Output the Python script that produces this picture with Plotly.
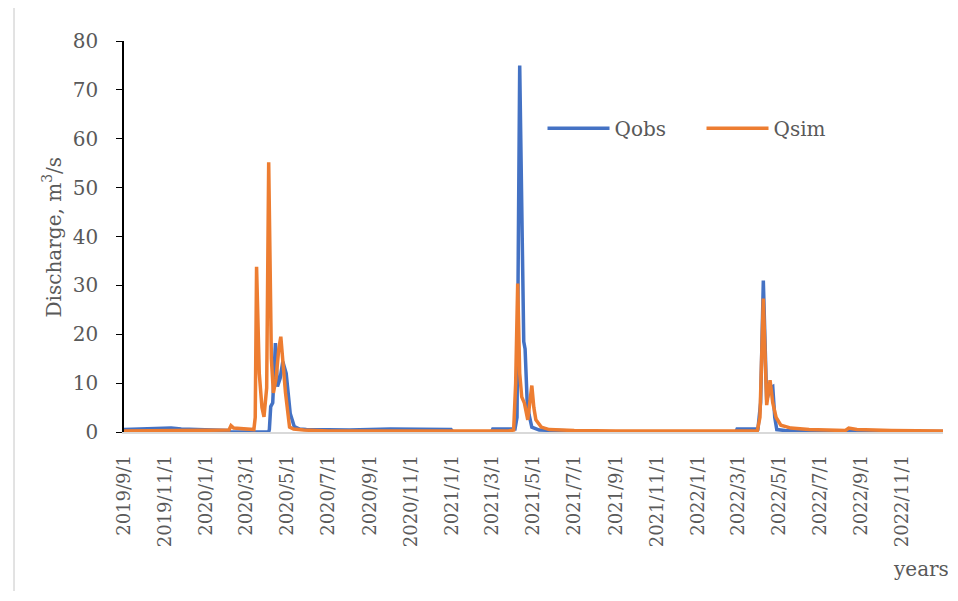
import plotly.graph_objects as go

qobs_dates = [
    "2019-09-01", "2019-10-20", "2019-11-10", "2019-11-25", "2020-01-15", "2020-02-03",
    "2020-02-06", "2020-04-03", "2020-04-04", "2020-04-06", "2020-04-09", "2020-04-13",
    "2020-04-16", "2020-04-20", "2020-04-24", "2020-04-29", "2020-05-05", "2020-05-11",
    "2020-05-19", "2020-05-29", "2020-08-01", "2020-10-01", "2020-12-30", "2021-01-02",
    "2021-02-28", "2021-03-02", "2021-04-04", "2021-04-07", "2021-04-11", "2021-04-17",
    "2021-04-19", "2021-04-22", "2021-04-25", "2021-04-29", "2021-05-10", "2021-08-01",
    "2022-02-26", "2022-02-28", "2022-03-31", "2022-04-04", "2022-04-08", "2022-04-11",
    "2022-04-13", "2022-04-18", "2022-04-22", "2022-04-25", "2022-04-28", "2022-05-10",
    "2022-08-01", "2022-12-31",
]
qobs_values = [
    0.5, 0.6, 0.8, 0.6, 0.5, 0.3,
    0.0, 0.0, 0.5, 5.2, 6.0, 18.2,
    9.3, 11.0, 14.4, 12.0, 3.8, 1.1,
    0.6, 0.5, 0.4, 0.6, 0.5, 0.0,
    0.0, 0.6, 0.6, 3.0, 75.0, 18.5,
    17.0, 6.5, 3.5, 1.0, 0.4, 0.1,
    0.0, 0.6, 0.6, 6.0, 31.0, 14.0,
    6.5, 9.0, 9.3, 3.0, 0.5, 0.3,
    0.1, 0.1,
]

# simulated discharge (m3/s)
qsim_dates = [
    "2019-09-01", "2019-11-01", "2020-01-01", "2020-02-04", "2020-02-07", "2020-02-11",
    "2020-03-12", "2020-03-14", "2020-03-16", "2020-03-20", "2020-03-24", "2020-03-27",
    "2020-03-31", "2020-04-03", "2020-04-07", "2020-04-10", "2020-04-14", "2020-04-18",
    "2020-04-21", "2020-04-24", "2020-04-28", "2020-05-04", "2020-05-10", "2020-05-25",
    "2020-07-01", "2021-03-25", "2021-04-02", "2021-04-05", "2021-04-08", "2021-04-11",
    "2021-04-14", "2021-04-18", "2021-04-23", "2021-04-26", "2021-04-29", "2021-05-02",
    "2021-05-05", "2021-05-13", "2021-05-25", "2021-07-01", "2021-09-01", "2022-03-30",
    "2022-04-03", "2022-04-08", "2022-04-11", "2022-04-13", "2022-04-18", "2022-04-22",
    "2022-04-27", "2022-05-04", "2022-05-19", "2022-06-15", "2022-08-08", "2022-08-13",
    "2022-08-25", "2022-10-15", "2022-12-31",
]
qsim_values = [
    0.2, 0.3, 0.4, 0.4, 1.3, 0.8,
    0.5, 3.0, 33.8, 12.0, 5.0, 3.1,
    9.0, 55.2, 15.0, 8.0, 11.0, 17.0,
    19.5, 14.0, 8.0, 1.0, 0.6, 0.4,
    0.2, 0.2, 0.4, 10.0, 30.4, 12.0,
    7.2, 5.9, 2.5, 6.0, 9.5, 5.0,
    2.5, 1.0, 0.5, 0.3, 0.2, 0.2,
    3.0, 27.3, 12.0, 5.5, 10.6, 6.0,
    3.0, 1.4, 0.8, 0.5, 0.3, 0.8,
    0.5, 0.3, 0.2,
]

txt = "#595959"
font = "DejaVu Serif"

fig = go.Figure()
fig.add_trace(go.Scatter(x=qobs_dates, y=qobs_values, mode="lines", name="Qobs",
                         line=dict(color="#4472C4", width=3.5)))
fig.add_trace(go.Scatter(x=qsim_dates, y=qsim_values, mode="lines", name="Qsim",
                         line=dict(color="#ED7D31", width=3.5)))

# page body has an 8px margin, so the figure is a bit smaller than the window
fig.update_layout(
    width=940, height=583,
    margin=dict(l=116, r=5, t=33, b=159),
    paper_bgcolor="white", plot_bgcolor="white",
    font=dict(family=font, color=txt, size=20),
    showlegend=True,
    legend=dict(orientation="h", x=0.511, y=0.777, xanchor="left", yanchor="middle",
                font=dict(size=20, color=txt), itemwidth=62, entrywidth=82,
                bgcolor="rgba(0,0,0,0)"),
)
fig.update_xaxes(
    type="date", range=["2019-09-01", "2022-12-31"],
    tick0="2019-09-01", dtick="M2", tickformat="%Y/%-m/%-d", tickangle=-90,
    tickfont=dict(size=18, color=txt), ticks="", ticklabelstandoff=14,
    showline=True, linecolor="#d9d9d9", linewidth=1.5, showgrid=False, zeroline=False,
)
fig.update_yaxes(
    range=[0, 80], dtick=10, ticks="outside", ticklen=6, tickcolor="black",
    tickfont=dict(size=20, color=txt), ticklabelstandoff=14,
    showline=True, linecolor="black", linewidth=1.5, showgrid=False, zeroline=False,
)
fig.add_annotation(text="Discharge, m<sup>3</sup>/s", xref="paper", yref="paper",
                   x=-0.088, y=0.5, textangle=-90, showarrow=False,
                   font=dict(size=20, color=txt), xanchor="center", yanchor="middle")
fig.add_annotation(text="years", xref="paper", yref="paper", x=0.973, y=-0.35,
                   showarrow=False, font=dict(size=20, color=txt),
                   xanchor="center", yanchor="middle")
# chart border on the left
fig.add_shape(type="line", xref="paper", yref="paper", x0=-0.1343, x1=-0.1343,
              y0=-0.42, y1=1.09, line=dict(color="#d9d9d9", width=1.5))

fig.write_html("out.html")
